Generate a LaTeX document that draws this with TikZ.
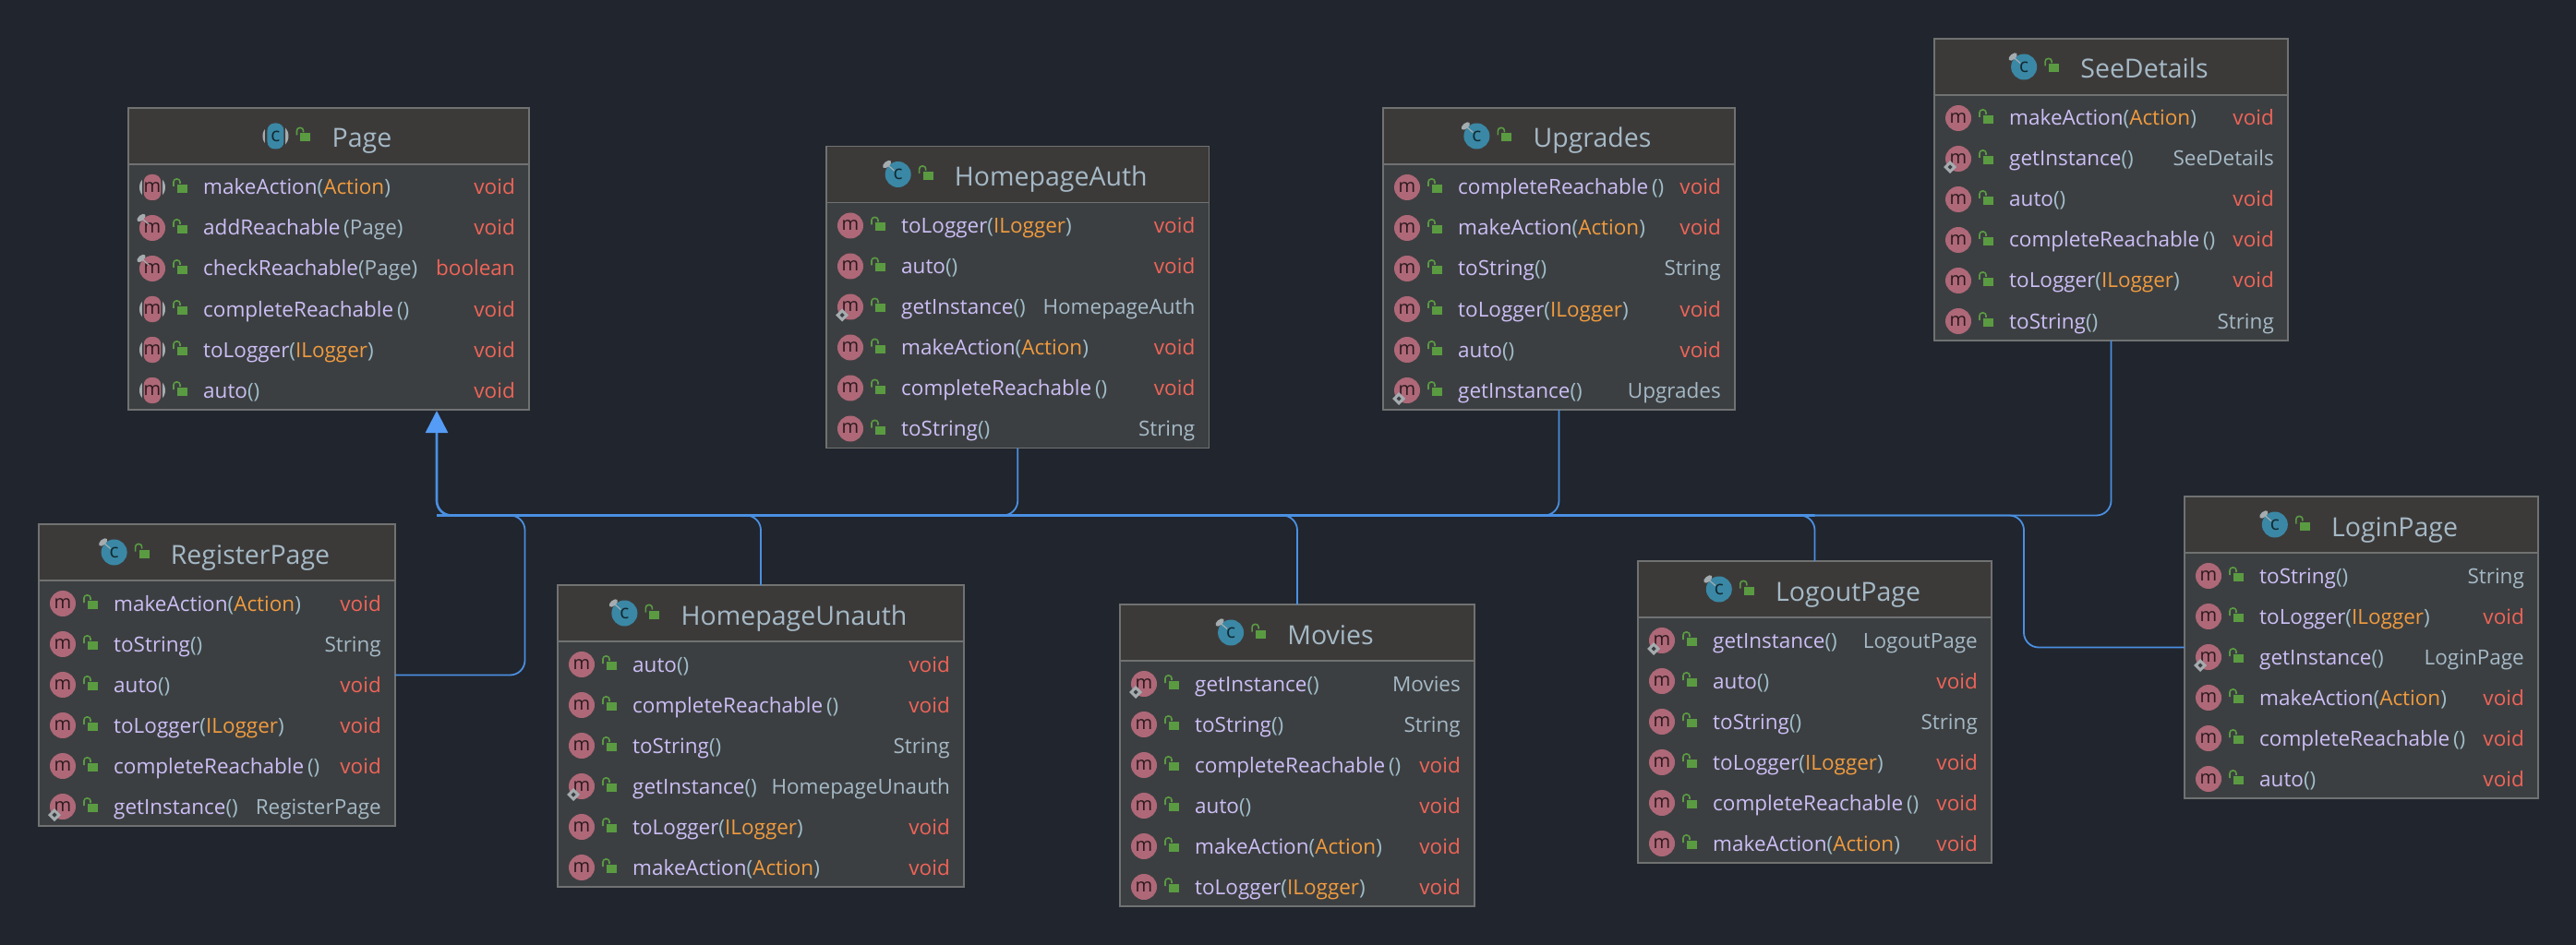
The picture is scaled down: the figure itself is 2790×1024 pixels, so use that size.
\documentclass[tikz,border=0pt]{standalone}
\usepackage{fontspec}
\setmainfont{Open Sans}
\usepackage{xcolor}
\usepackage{tikz}
\usetikzlibrary{shapes.geometric}
\usetikzlibrary{arrows.meta}
\usetikzlibrary{positioning}

\definecolor{bgcol}{RGB}{33,37,45}
\definecolor{bodycol}{RGB}{60,63,65}
\definecolor{headcol}{RGB}{60,58,57}
\definecolor{edgecol}{RGB}{112,114,114}
\definecolor{methodcol}{RGB}{204,190,245}
\definecolor{argcol}{RGB}{240,155,62}
\definecolor{parencol}{RGB}{160,188,200}
\definecolor{typecol}{RGB}{165,185,198}
\definecolor{voidcol}{RGB}{240,100,88}
\definecolor{pinkcol}{RGB}{174,104,120}
\definecolor{tealcol}{RGB}{58,136,165}
\definecolor{lockcol}{RGB}{90,155,66}
\definecolor{markcol}{RGB}{165,172,176}
\definecolor{linkcol}{RGB}{74,144,226}
\definecolor{tipcol}{RGB}{84,156,245}

\tikzset{
  x=1pt, y=-1pt,
  classbox/.style={draw=edgecol, line width=1.5pt, fill=bodycol, anchor=north west,
    inner sep=0pt, outer sep=0pt, minimum height=327pt},
  classhead/.style={draw=edgecol, line width=1.5pt, fill=headcol, anchor=north west,
    inner sep=0pt, outer sep=0pt, minimum height=61pt},
  classtitle/.style={text=typecol, inner sep=0pt, anchor=base, font=\fontsize{28.5}{28.5}\selectfont},
  rowname/.style={text=methodcol, anchor=base west, inner sep=0pt, font=\fontsize{22.5}{24}\selectfont},
  rowtype/.style={text=typecol, anchor=base east, inner sep=0pt, font=\fontsize{22.5}{24}\selectfont},
  micon/.style={circle, fill=pinkcol, text=black!75!pinkcol, inner sep=0pt, minimum size=28pt,
    font=\fontsize{20}{20}\selectfont},
  cicon/.style={circle, fill=tealcol, text=black!70!tealcol, inner sep=0pt, minimum size=28pt,
    font=\fontsize{21}{21}\selectfont},
  sidemark/.style={circle, fill=markcol, inner sep=0pt, minimum size=28pt},
  pinmark/.style={ellipse, fill=markcol, inner sep=0pt, minimum width=11pt, minimum height=6pt, rotate=40},
  staticmark/.style={diamond, aspect=1, draw=markcol, line width=3pt, fill=bodycol,
    inner sep=0pt, minimum size=11pt},
  link/.style={draw=linkcol, line width=1.8pt, rounded corners=16pt},
  inherit/.style={draw=linkcol, line width=2.6pt, rounded corners=16pt,
    -{Triangle[length=24pt,width=24pt,color=tipcol]}},
  lockicon/.pic={
    \fill[lockcol] (-3,-3) rectangle (8,6);
    \draw[lockcol, line width=1.6pt, rounded corners=3pt] (-7,-1) -- (-7,-9) -- (0,-9) -- (0,-4);
  }
}

% Textos de las filas
\newcommand{\ar}[1]{\textcolor{parencol}{(}\textcolor{argcol}{#1}\textcolor{parencol}{)}}
\newcommand{\ag}[1]{\textcolor{parencol}{(}\textcolor{typecol}{#1}\textcolor{parencol}{)}}
\newcommand{\np}{\textcolor{parencol}{()}}
\newcommand{\rv}{\textcolor{voidcol}{void}}
\newcommand{\rb}{\textcolor{voidcol}{boolean}}

% Iconos de metodo
\newcommand{\mplain}[2]{\node[micon] (#1) at #2 {m};}
\newcommand{\mstatic}[2]{\node[micon] (#1) at #2 {m};
  \node[staticmark] (#1s) at ([xshift=-9pt,yshift=-9pt]#1.center) {};}
\newcommand{\mpin}[2]{\node[micon] (#1) at #2 {m};
  \node[pinmark] (#1p) at ([xshift=-12pt,yshift=11pt]#1.center) {};
  \draw[markcol, line width=1.2pt] (#1p.center) -- ([xshift=-4pt,yshift=4pt]#1.center);}
\newcommand{\mabs}[2]{\node[sidemark] (#1g) at #2 {};
  \node[fill=bodycol, inner sep=0pt, minimum width=22pt, minimum height=29pt] (#1b) at #2 {};
  \node[micon, rounded corners=8pt, rectangle, minimum width=18pt, minimum height=28pt] (#1) at #2 {m};}

% Iconos de clase
\newcommand{\cpin}[2]{\node[cicon] (#1) at #2 {c};
  \node[pinmark] (#1p) at ([xshift=-12pt,yshift=11pt]#1.center) {};
  \draw[markcol, line width=1.2pt] (#1p.center) -- ([xshift=-4pt,yshift=4pt]#1.center);}
\newcommand{\cabs}[2]{\node[sidemark] (#1g) at #2 {};
  \node[fill=headcol, inner sep=0pt, minimum width=22pt, minimum height=29pt] (#1b) at #2 {};
  \node[cicon, rounded corners=8pt, rectangle, minimum width=18pt, minimum height=28pt] (#1) at #2 {c};}

% nombre, x, y, ancho, titulo, icono, filas
\newcommand{\classnode}[7]{
  \node[classbox, minimum width=#4pt] (#1) at (#2,#3) {};
  \node[classhead, minimum width=#4pt] (#1head) at (#2,#3) {};
  \node[classtitle, xshift=36pt] (#1title) at (#2+#4/2,#3+43) {#5};
  #6{#1icon}{([xshift=-61pt]#1title.west |- #1head.center)}
  \pic at ([xshift=-31pt]#1title.west |- #1head.center) {lockicon};
  \foreach \mname/\mtype/\mkind [count=\i from 0, evaluate=\i as \rowy using #3+86+44*\i] in {#7} {
    \mkind{#1m\i}{(#2+26,\rowy)}
    \pic at (#2+56,\rowy) {lockicon};
    \node[rowname] (#1n\i) at (#2+81,\rowy+8) {\mname};
    \node[rowtype] (#1t\i) at (#2+#4-15,\rowy+8) {\mtype};
  }
}

\begin{document}
\begin{tikzpicture}
  \path[fill=bgcol, use as bounding box] (0,0) rectangle (2790,1024);

  % Clase de arriba
  \classnode{page}{139}{117}{434}{Page}{\cabs}{
    makeAction\ar{Action}/\rv/\mabs,
    addReachable\,\ag{Page}/\rv/\mpin,
    checkReachable\ag{Page}/\rb/\mpin,
    completeReachable\,\np/\rv/\mabs,
    toLogger\ar{ILogger}/\rv/\mabs,
    auto\np/\rv/\mabs}

  % Clases de la fila superior
  \classnode{auth}{895}{158.5}{414.5}{HomepageAuth}{\cpin}{
    toLogger\ar{ILogger}/\rv/\mplain,
    auto\np/\rv/\mplain,
    getInstance\np/HomepageAuth/\mstatic,
    makeAction\ar{Action}/\rv/\mplain,
    completeReachable\,\np/\rv/\mplain,
    toString\np/String/\mplain}
  \classnode{upgrades}{1498}{117}{381}{Upgrades}{\cpin}{
    completeReachable\,\np/\rv/\mplain,
    makeAction\ar{Action}/\rv/\mplain,
    toString\np/String/\mplain,
    toLogger\ar{ILogger}/\rv/\mplain,
    auto\np/\rv/\mplain,
    getInstance\np/Upgrades/\mstatic}
  \classnode{details}{2095}{42}{383}{SeeDetails}{\cpin}{
    makeAction\ar{Action}/\rv/\mplain,
    getInstance\np/SeeDetails/\mstatic,
    auto\np/\rv/\mplain,
    completeReachable\,\np/\rv/\mplain,
    toLogger\ar{ILogger}/\rv/\mplain,
    toString\np/String/\mplain}

  % Clases de la fila inferior
  \classnode{register}{42}{568}{386}{RegisterPage}{\cpin}{
    makeAction\ar{Action}/\rv/\mplain,
    toString\np/String/\mplain,
    auto\np/\rv/\mplain,
    toLogger\ar{ILogger}/\rv/\mplain,
    completeReachable\,\np/\rv/\mplain,
    getInstance\np/RegisterPage/\mstatic}
  \classnode{unauth}{604}{634}{440}{HomepageUnauth}{\cpin}{
    auto\np/\rv/\mplain,
    completeReachable\,\np/\rv/\mplain,
    toString\np/String/\mplain,
    getInstance\np/HomepageUnauth/\mstatic,
    toLogger\ar{ILogger}/\rv/\mplain,
    makeAction\ar{Action}/\rv/\mplain}
  \classnode{movies}{1213}{655}{384}{Movies}{\cpin}{
    getInstance\np/Movies/\mstatic,
    toString\np/String/\mplain,
    completeReachable\,\np/\rv/\mplain,
    auto\np/\rv/\mplain,
    makeAction\ar{Action}/\rv/\mplain,
    toLogger\ar{ILogger}/\rv/\mplain}
  \classnode{logout}{1774}{608}{383}{LogoutPage}{\cpin}{
    getInstance\np/LogoutPage/\mstatic,
    auto\np/\rv/\mplain,
    toString\np/String/\mplain,
    toLogger\ar{ILogger}/\rv/\mplain,
    completeReachable\,\np/\rv/\mplain,
    makeAction\ar{Action}/\rv/\mplain}
  \classnode{login}{2366}{538}{383}{LoginPage}{\cpin}{
    toString\np/String/\mplain,
    toLogger\ar{ILogger}/\rv/\mplain,
    getInstance\np/LoginPage/\mstatic,
    makeAction\ar{Action}/\rv/\mplain,
    completeReachable\,\np/\rv/\mplain,
    auto\np/\rv/\mplain}

  % Conexiones
  \coordinate (tip) at (473,445);
  \coordinate (trunk) at (473,558.5);
  \foreach \child/\side in {auth/south, upgrades/south, details/south,
      unauth/north, movies/north, logout/north} {
    \draw[link] (\child.\side) -- (\child.\side |- trunk) -- (trunk);
  }
  \draw[link] (register.east) -- (568.5,0 |- register.east) -- (568.5,0 |- trunk) -- (trunk);
  \draw[link] (login.west) -- (2192,0 |- login.west) -- (2192,0 |- trunk) -- (trunk);
  \draw[inherit] (logout.north |- trunk) -- (trunk) -- (tip);
\end{tikzpicture}
\end{document}
